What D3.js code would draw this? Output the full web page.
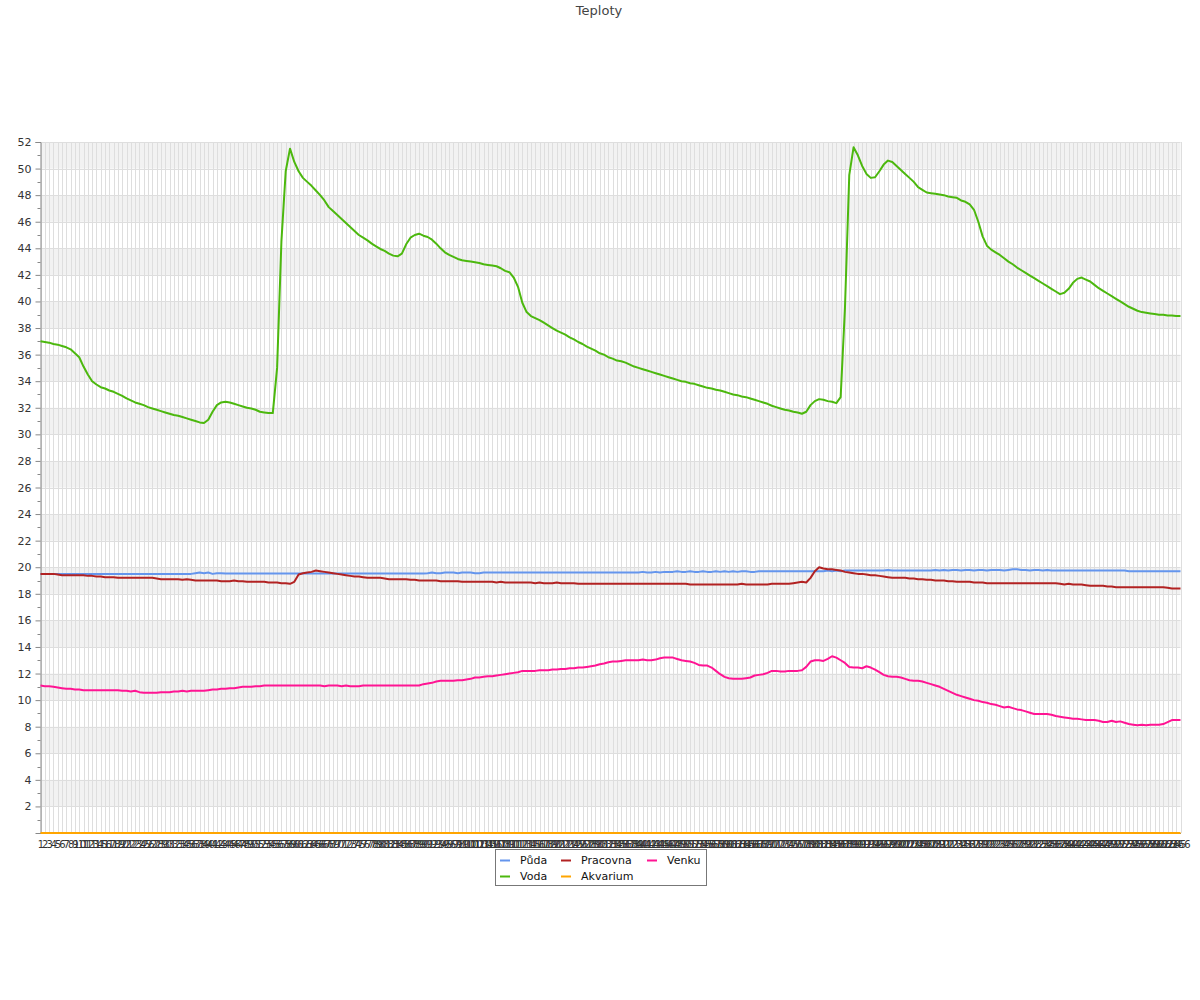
<!DOCTYPE html>
<html><head><meta charset="utf-8">
<script src="https://cdn.jsdelivr.net/npm/d3@7"></script>
<style>body{margin:0;background:#fff;font-family:"DejaVu Sans",sans-serif;}</style>
</head><body>
<svg id="chart" width="1200" height="1000"></svg>
<script>
// ---- data ----
const title = "Teploty";
const seriesNames = ["Půda","Voda","Pracovna","Akvarium","Venku"];
const seriesColors = ["#6495ed","#4cb80e","#b22222","#ffa500","#ff1493"];
const yTicks = [2,4,6,8,10,12,14,16,18,20,22,24,26,28,30,32,34,36,38,40,42,44,46,48,50,52];

const puda = [
19.5,19.5,19.5,19.5,19.5,19.5,19.5,19.5,19.5,19.5,
19.5,19.5,19.5,19.5,19.5,19.5,19.5,19.5,19.5,19.5,
19.5,19.5,19.5,19.5,19.5,19.5,19.5,19.5,19.5,19.5,
19.5,19.5,19.5,19.5,19.5,19.5,19.55,19.6,19.55,19.6,
19.5,19.55,19.55,19.52,19.52,19.52,19.52,19.52,19.52,19.52,
19.52,19.52,19.52,19.52,19.52,19.52,19.52,19.52,19.52,19.52,
19.52,19.52,19.52,19.52,19.52,19.52,19.52,19.52,19.52,19.52,
19.52,19.52,19.52,19.52,19.52,19.52,19.52,19.52,19.52,19.52,
19.52,19.52,19.52,19.52,19.52,19.52,19.52,19.52,19.52,19.52,
19.55,19.6,19.55,19.55,19.6,19.6,19.6,19.55,19.6,19.6,
19.6,19.55,19.55,19.6,19.6,19.6,19.6,19.6,19.6,19.6,
19.6,19.6,19.6,19.6,19.6,19.6,19.6,19.6,19.6,19.6,
19.6,19.6,19.6,19.6,19.6,19.6,19.6,19.6,19.6,19.6,
19.6,19.6,19.6,19.6,19.6,19.6,19.6,19.6,19.6,19.6,
19.65,19.6,19.6,19.65,19.6,19.65,19.65,19.65,19.7,19.65,
19.65,19.7,19.65,19.65,19.7,19.65,19.65,19.7,19.65,19.7,
19.65,19.7,19.65,19.7,19.7,19.65,19.65,19.7,19.7,19.7,
19.7,19.7,19.7,19.7,19.7,19.7,19.7,19.7,19.7,19.7,
19.7,19.7,19.7,19.75,19.7,19.75,19.7,19.75,19.75,19.75,
19.75,19.75,19.75,19.75,19.75,19.75,19.75,19.8,19.75,19.75,
19.75,19.75,19.75,19.75,19.75,19.75,19.75,19.75,19.8,19.75,
19.8,19.75,19.8,19.8,19.75,19.8,19.8,19.75,19.8,19.8,
19.75,19.8,19.8,19.8,19.75,19.8,19.85,19.85,19.8,19.8,
19.75,19.8,19.8,19.75,19.8,19.75,19.75,19.75,19.75,19.75,
19.75,19.75,19.75,19.75,19.75,19.75,19.75,19.75,19.75,19.75,
19.75,19.75,19.75,19.7,19.7,19.7,19.7,19.7,19.7,19.7,
19.7,19.7,19.7,19.7,19.7,19.7];

const voda = [
37.0,36.95,36.9,36.8,36.75,36.65,36.55,36.4,36.1,35.8,
35.1,34.5,34.0,33.75,33.55,33.45,33.3,33.2,33.05,32.9,
32.7,32.55,32.4,32.3,32.2,32.05,31.95,31.85,31.75,31.65,
31.55,31.45,31.4,31.3,31.2,31.1,31.0,30.9,30.85,31.1,
31.7,32.2,32.4,32.45,32.4,32.3,32.2,32.1,32.0,31.95,
31.85,31.7,31.65,31.6,31.6,35.0,44.5,49.8,51.5,50.5,
49.8,49.3,49.0,48.7,48.35,48.0,47.6,47.1,46.8,46.5,
46.2,45.9,45.6,45.3,45.0,44.8,44.6,44.35,44.15,43.95,
43.8,43.6,43.45,43.4,43.6,44.3,44.8,45.0,45.1,44.95,
44.85,44.65,44.35,44.0,43.7,43.5,43.35,43.2,43.1,43.05,
43.0,42.95,42.9,42.8,42.75,42.7,42.65,42.5,42.3,42.2,
41.8,41.1,39.9,39.2,38.9,38.75,38.6,38.4,38.2,38.0,
37.8,37.65,37.5,37.3,37.15,36.95,36.8,36.6,36.45,36.3,
36.1,36.0,35.8,35.7,35.55,35.5,35.4,35.25,35.1,35.0,
34.9,34.8,34.7,34.6,34.5,34.4,34.3,34.2,34.1,34.0,
33.95,33.85,33.8,33.7,33.6,33.5,33.45,33.35,33.3,33.2,
33.1,33.0,32.95,32.85,32.8,32.7,32.6,32.5,32.4,32.3,
32.15,32.05,31.95,31.85,31.8,31.7,31.65,31.55,31.7,32.2,
32.5,32.65,32.6,32.5,32.45,32.35,32.8,39.5,49.5,51.6,
51.0,50.2,49.6,49.3,49.35,49.8,50.3,50.6,50.5,50.2,
49.9,49.6,49.3,49.0,48.6,48.4,48.2,48.15,48.1,48.05,
48.0,47.9,47.85,47.8,47.6,47.5,47.3,46.9,46.0,44.9,
44.2,43.9,43.7,43.5,43.25,43.0,42.8,42.55,42.35,42.15,
41.95,41.75,41.55,41.35,41.15,40.95,40.75,40.55,40.65,40.95,
41.4,41.7,41.8,41.65,41.5,41.25,41.0,40.8,40.6,40.4,
40.2,40.0,39.8,39.6,39.45,39.3,39.2,39.15,39.1,39.05,
39.0,39.0,38.95,38.95,38.9,38.9];

const pracovna = [
19.5,19.5,19.5,19.5,19.45,19.4,19.4,19.4,19.4,19.4,
19.4,19.35,19.35,19.3,19.3,19.25,19.25,19.25,19.2,19.2,
19.2,19.2,19.2,19.2,19.2,19.2,19.2,19.15,19.1,19.1,
19.1,19.1,19.1,19.05,19.1,19.05,19.0,19.0,19.0,19.0,
19.0,19.0,18.95,18.95,18.95,19.0,18.95,18.95,18.9,18.9,
18.9,18.9,18.9,18.85,18.85,18.85,18.8,18.8,18.75,18.9,
19.45,19.55,19.6,19.65,19.75,19.7,19.65,19.6,19.55,19.5,
19.45,19.4,19.35,19.3,19.3,19.25,19.2,19.2,19.2,19.2,
19.15,19.1,19.1,19.1,19.1,19.1,19.05,19.05,19.0,19.0,
19.0,19.0,19.0,18.95,18.95,18.95,18.95,18.95,18.9,18.9,
18.9,18.9,18.9,18.9,18.9,18.9,18.85,18.9,18.85,18.85,
18.85,18.85,18.85,18.85,18.85,18.8,18.85,18.8,18.8,18.8,
18.85,18.8,18.8,18.8,18.8,18.75,18.75,18.75,18.75,18.75,
18.75,18.75,18.75,18.75,18.75,18.75,18.75,18.75,18.75,18.75,
18.75,18.75,18.75,18.75,18.75,18.75,18.75,18.75,18.75,18.75,
18.75,18.7,18.7,18.7,18.7,18.7,18.7,18.7,18.7,18.7,
18.7,18.7,18.7,18.75,18.7,18.7,18.7,18.7,18.7,18.7,
18.75,18.75,18.75,18.75,18.75,18.8,18.85,18.9,18.85,19.2,
19.7,20.0,19.9,19.85,19.85,19.8,19.75,19.65,19.6,19.55,
19.5,19.5,19.45,19.4,19.4,19.35,19.3,19.25,19.2,19.2,
19.2,19.2,19.15,19.15,19.1,19.1,19.05,19.05,19.0,19.0,
19.0,18.95,18.95,18.9,18.9,18.9,18.9,18.85,18.85,18.85,
18.8,18.8,18.8,18.8,18.8,18.8,18.8,18.8,18.8,18.8,
18.8,18.8,18.8,18.8,18.8,18.8,18.8,18.75,18.7,18.75,
18.7,18.7,18.7,18.65,18.6,18.6,18.6,18.6,18.55,18.55,
18.5,18.5,18.5,18.5,18.5,18.5,18.5,18.5,18.5,18.5,
18.5,18.5,18.45,18.4,18.4,18.4];

const akvarium = [
0,0,0,0,0,0,0,0,0,0, 0,0,0,0,0,0,0,0,0,0, 0,0,0,0,0,0,0,0,0,0,
0,0,0,0,0,0,0,0,0,0, 0,0,0,0,0,0,0,0,0,0, 0,0,0,0,0,0,0,0,0,0,
0,0,0,0,0,0,0,0,0,0, 0,0,0,0,0,0,0,0,0,0, 0,0,0,0,0,0,0,0,0,0,
0,0,0,0,0,0,0,0,0,0, 0,0,0,0,0,0,0,0,0,0, 0,0,0,0,0,0,0,0,0,0,
0,0,0,0,0,0,0,0,0,0, 0,0,0,0,0,0,0,0,0,0, 0,0,0,0,0,0,0,0,0,0,
0,0,0,0,0,0,0,0,0,0, 0,0,0,0,0,0,0,0,0,0, 0,0,0,0,0,0,0,0,0,0,
0,0,0,0,0,0,0,0,0,0, 0,0,0,0,0,0,0,0,0,0, 0,0,0,0,0,0,0,0,0,0,
0,0,0,0,0,0,0,0,0,0, 0,0,0,0,0,0,0,0,0,0, 0,0,0,0,0,0,0,0,0,0,
0,0,0,0,0,0,0,0,0,0, 0,0,0,0,0,0,0,0,0,0, 0,0,0,0,0,0];

const venku = [
11.1,11.05,11.05,11.0,10.95,10.9,10.85,10.85,10.8,10.8,
10.75,10.75,10.75,10.75,10.75,10.75,10.75,10.75,10.75,10.7,
10.7,10.65,10.7,10.6,10.55,10.55,10.55,10.55,10.6,10.6,
10.6,10.65,10.65,10.7,10.65,10.7,10.7,10.7,10.7,10.75,
10.8,10.8,10.85,10.85,10.9,10.9,10.95,11.0,11.0,11.0,
11.05,11.05,11.1,11.1,11.1,11.1,11.1,11.1,11.1,11.1,
11.1,11.1,11.1,11.1,11.1,11.1,11.05,11.1,11.1,11.1,
11.05,11.1,11.05,11.05,11.05,11.1,11.1,11.1,11.1,11.1,
11.1,11.1,11.1,11.1,11.1,11.1,11.1,11.1,11.1,11.2,
11.25,11.3,11.4,11.45,11.45,11.45,11.45,11.5,11.5,11.55,
11.6,11.7,11.7,11.75,11.8,11.8,11.85,11.9,11.95,12.0,
12.05,12.1,12.2,12.2,12.2,12.2,12.25,12.25,12.25,12.3,
12.3,12.35,12.35,12.4,12.4,12.45,12.45,12.5,12.55,12.6,
12.7,12.75,12.85,12.9,12.9,12.95,13.0,13.0,13.0,13.0,
13.05,13.0,13.0,13.05,13.15,13.2,13.2,13.2,13.1,13.0,
12.95,12.9,12.8,12.65,12.6,12.6,12.45,12.2,11.95,11.75,
11.65,11.6,11.6,11.6,11.65,11.7,11.85,11.9,11.95,12.05,
12.2,12.2,12.15,12.15,12.2,12.2,12.2,12.25,12.5,12.9,
13.0,13.0,12.95,13.1,13.3,13.2,13.0,12.8,12.5,12.45,
12.45,12.4,12.55,12.45,12.3,12.1,11.9,11.8,11.75,11.75,
11.7,11.6,11.5,11.45,11.45,11.4,11.3,11.2,11.1,11.0,
10.85,10.7,10.55,10.4,10.3,10.2,10.1,10.0,9.95,9.85,
9.8,9.7,9.65,9.55,9.45,9.5,9.4,9.3,9.25,9.15,
9.05,8.95,8.95,8.95,8.95,8.9,8.8,8.75,8.7,8.65,
8.6,8.6,8.55,8.5,8.5,8.5,8.45,8.35,8.35,8.45,
8.35,8.4,8.3,8.2,8.15,8.1,8.15,8.1,8.15,8.15,
8.15,8.2,8.35,8.5,8.5,8.5];

const categories = d3.range(1, voda.length + 1).map(String);
const seriesValues = [puda, voda, pracovna, akvarium, venku];

// ---- layout ----
const svg = d3.select("#chart");
const pLeft = 40.5, pRight = 1180.5, pTop = 142, pBottom = 833;

const x = d3.scalePoint().domain(categories).range([pLeft, pRight]);
const y = d3.scaleLinear().domain([0, 52]).range([pBottom, pTop]);

svg.append("text").attr("x", 599).attr("y", 15).attr("text-anchor", "middle")
  .attr("font-size", 13).attr("fill", "#444").text(title);

const g = svg.append("g");
// bands
const bandStarts = d3.range(2, 52, 4);
g.selectAll("rect.band").data(bandStarts).enter().append("rect")
  .attr("x", pLeft).attr("width", pRight - pLeft)
  .attr("y", d => y(d + 2)).attr("height", d => y(d) - y(d + 2))
  .attr("fill", "#f2f2f2");
// vertical grid
g.selectAll("line.vg").data(categories).enter().append("line")
  .attr("x1", d => Math.round(x(d)) + 0.5).attr("x2", d => Math.round(x(d)) + 0.5)
  .attr("y1", pTop).attr("y2", pBottom).attr("stroke", "#dedede").attr("stroke-width", 1);
// horizontal grid
g.selectAll("line.hg").data(yTicks).enter().append("line")
  .attr("x1", pLeft).attr("x2", pRight)
  .attr("y1", d => Math.round(y(d)) + 0.5).attr("y2", d => Math.round(y(d)) + 0.5)
  .attr("stroke", "#dedede").attr("stroke-width", 1);

// y axis
const yAxis = d3.axisLeft(y).tickValues(yTicks).tickSize(5).tickPadding(4);
const ya = svg.append("g").attr("transform", `translate(${pLeft},0)`).call(yAxis);
ya.select(".domain").attr("stroke", "#888");
ya.selectAll(".tick line").attr("stroke", "#888");
ya.selectAll(".tick text").attr("fill", "#333").attr("font-size", 11).attr("font-family", "DejaVu Sans");
// minor ticks
svg.append("g").selectAll("line").data(d3.range(1, 52, 2)).enter().append("line")
  .attr("x1", pLeft - 3).attr("x2", pLeft)
  .attr("y1", d => Math.round(y(d)) + 0.5).attr("y2", d => Math.round(y(d)) + 0.5)
  .attr("stroke", "#888");

// x axis labels
const xa = svg.append("g").attr("transform", `translate(0,${pBottom})`)
  .call(d3.axisBottom(x).tickSize(0).tickPadding(8));
xa.select(".domain").attr("stroke", "#888");
xa.selectAll(".tick text").attr("fill", "#333").attr("font-size", 10).attr("font-family", "DejaVu Sans");

// lines
const line = d3.line().x((d, i) => x(categories[i])).y(d => y(d));
seriesValues.forEach((vals, k) => {
  svg.append("path").datum(vals).attr("d", line).attr("fill", "none")
    .attr("stroke", seriesColors[k]).attr("stroke-width", 2).attr("stroke-linejoin", "round");
});

// legend
const lg = svg.append("g");
lg.append("rect").attr("x", 495.5).attr("y", 849.5).attr("width", 211).attr("height", 36)
  .attr("fill", "#fff").attr("stroke", "#777");
const legPos = [[500, 860], [500, 876], [561, 860], [561, 876], [647, 860]];
seriesNames.forEach((n, k) => {
  const [lx, ly] = legPos[k];
  lg.append("line").attr("x1", lx).attr("x2", lx + 10).attr("y1", ly + 0.5).attr("y2", ly + 0.5)
    .attr("stroke", seriesColors[k]).attr("stroke-width", 2);
  lg.append("text").attr("x", lx + 20).attr("y", ly + 4).attr("font-size", 11)
    .attr("fill", "#111").text(n);
});
</script>
</body></html>
